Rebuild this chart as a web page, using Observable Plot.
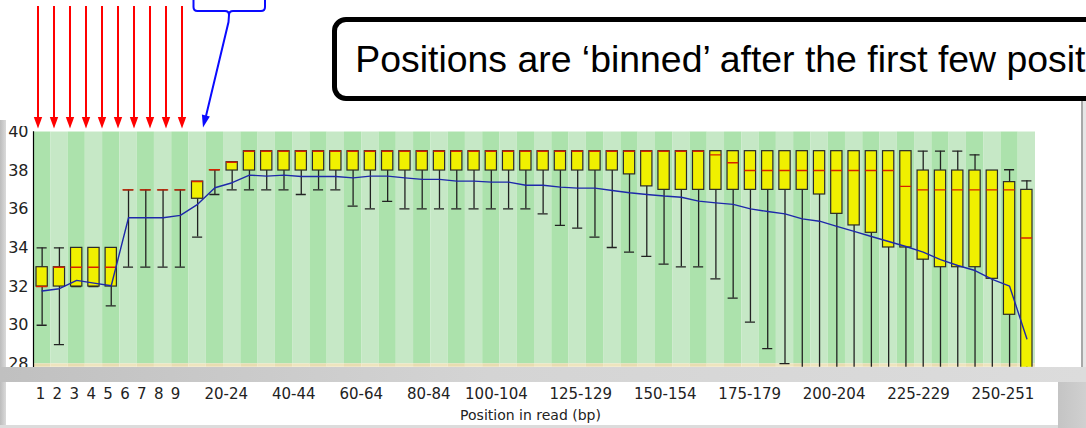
<!DOCTYPE html>
<html>
<head>
<meta charset="utf-8">
<script src="https://cdn.jsdelivr.net/npm/d3@7"></script>
<script src="https://cdn.jsdelivr.net/npm/@observablehq/plot@0.6"></script>
<style>
html,body{margin:0;padding:0;background:#fff;}
#page{position:relative;width:1086px;height:428px;overflow:hidden;background:#fff;font-family:"DejaVu Sans",sans-serif;}
#leftstrip{position:absolute;left:0;top:120px;width:6px;height:308px;background:linear-gradient(to right,#bcbcbc,#dadada);}
#main{position:absolute;left:0;top:126px;}
#rightline{position:absolute;left:1081px;top:101px;width:2px;height:266px;background:#a8a8a8;}
#rightpad{position:absolute;left:1083px;top:101px;width:3px;height:266px;background:#e6e6e6;}
#band{position:absolute;left:0;top:366.7px;width:1086px;height:15px;background:linear-gradient(to right,#c0c0c0,#d4d4d4 45%,#dcdcdc);}
#strip{position:absolute;left:6px;top:381.7px;width:1052px;height:43px;background:#fff;}
#stripright{position:absolute;left:1058px;top:381.7px;width:28px;height:47px;background:linear-gradient(to right,#c4c4c4,#d0d0d0);}
#stripbottom{position:absolute;left:0;top:424.7px;width:1058px;height:4px;background:#dcdcdc;}
#xaxis{position:absolute;left:0;top:381.7px;}
#callout{position:absolute;left:332px;top:16.7px;width:820px;height:84.3px;box-sizing:border-box;border:5px solid #000;border-radius:14px;background:#fff;}
#callouttext{position:absolute;left:355.3px;top:40.6px;font-family:"Liberation Sans",Arial,sans-serif;font-size:37.4px;line-height:1;white-space:nowrap;color:#000;}
#anno{position:absolute;left:0;top:0;width:1086px;height:428px;pointer-events:none;}
</style>
</head>
<body>
<div id="page">
  <div id="leftstrip"></div>
  <div id="main"></div>
  <div id="rightline"></div>
  <div id="rightpad"></div>
  <div id="band"></div>
  <div id="strip"></div>
  <div id="stripright"></div>
  <div id="stripbottom"></div>
  <div id="xaxis"></div>
  <div id="callout"></div>
  <div id="callouttext">Positions are ‘binned’ after the first few positions</div>
  <svg id="anno" viewBox="0 0 1086 428"></svg>
</div>
<script>
// ---- data ----
const cats = ["1","2","3","4","5","6","7","8","9","10-14","15-19","20-24","25-29","30-34","35-39","40-44","45-49","50-54","55-59","60-64","65-69","70-74","75-79","80-84","85-89","90-94","95-99","100-104","105-109","110-114","115-119","120-124","125-129","130-134","135-139","140-144","145-149","150-154","155-159","160-164","165-169","170-174","175-179","180-184","185-189","190-194","195-199","200-204","205-209","210-214","215-219","220-224","225-229","230-234","235-239","240-244","245-249","250-251"];

const upperQuartile = [33,33,34,34,34,37,37,37,37,37.43,
  38.04,38.43,39,39,39,39,39,39,39,39,
  39,39,39,39,39,39,39,39,39,39,
  39,39,39,39,39,39,39,39,39,39,
  39,39,39,39,39,39,39,39,39,39,
  39,38,38,38,38,38,37.4,37];

const lowerQuartile = [32,32,32,32,32,37,37,37,37,36.54,
  38.04,38.0,38,38,38,38,38,38,38,38,
  38,38,38,38,38,38,38,38,38,38,
  38,38,38,38,37.8,37.18,37,37,37,37,
  37,37,37,37,37,36.76,35.76,35.16,34.78,34.02,
  34.02,33.39,33,33,33,32.4,30.54,25];

const median = [32,33,33,33,33,37,37,37,37,37.43,
  38.04,38.43,39,39,39,39,39,39,39,39,
  39,39,39,39,39,39,39,39,39,39,
  39,39,39,39,39,39,39,39,39,38.81,
  38.4,38,38,38,38,38,38,38,38,38,
  37.18,37,37,37,37,37,37,34.51];

const whiskerHigh = [34,34,34,34,34,37,37,37,37,37.43,
  38.04,38.43,39,39,39,39,39,39,39,39,
  39,39,39,39,39,39,39,39,39,39,
  39,39,39,39,39,39,39,39,39,39,
  39,39,39,39,39,39,39,39,39,39,
  39,39,39,39,38.81,38,38.04,37.47];

const whiskerLow = [30,29,32,32,31,33,33,33,33,34.56,
  36.76,37,37,37,37,36.76,37,37,36.16,36.02,
  36.4,36.02,36.02,36.02,36.02,36.02,36.02,36.02,36.02,35.76,
  35.16,35.02,34.56,34.02,33.78,33.56,33.16,33.02,33.02,32.4,
  31.4,30.16,28.79,28.01,27,26,26,26,26,26,
  26,26,26,26,26,26,26,22];

const meanQuality = [31.77,31.89,32.32,32.18,32.04,35.56,35.56,35.56,35.68,36.25,
  37.11,37.37,37.76,37.71,37.76,37.69,37.69,37.69,37.62,37.71,
  37.71,37.62,37.54,37.54,37.45,37.45,37.40,37.40,37.24,37.24,
  37.14,37.09,37.09,36.97,36.85,36.76,36.68,36.62,36.42,36.33,
  36.25,36.02,35.88,35.76,35.50,35.38,35.11,34.85,34.59,34.33,
  34.07,33.78,33.39,33.09,32.83,32.37,32.02,29.30];

const yTicks = [28,30,32,34,36,38,40];
const xTickLabels = ["1","2","3","4","5","6","7","8","9","20-24","40-44","60-64","80-84","100-104","125-129","150-154","175-179","200-204","225-229","250-251"];
const xTitle = "Position in read (bp)";
const goodBand = [28, 40];
const okBand = [20, 28];

// ---- styles ----
const GREEN_A = "rgb(172,226,172)", GREEN_B = "rgb(198,232,198)";
const ORANGE_A = "rgb(232,220,176)", ORANGE_B = "rgb(238,228,190)";
const YELLOW = "rgb(240,240,0)", RED = "rgb(214,36,0)", BLUE = "rgb(30,40,170)", INK = "#222";

const rows = cats.map((c, i) => ({
  cat: c, idx: i,
  q1: lowerQuartile[i], q3: upperQuartile[i], med: median[i],
  lo: whiskerLow[i], hi: whiskerHigh[i], mean: meanQuality[i]
}));

const main = Plot.plot({
  width: 1036, height: 241,
  marginLeft: 33, marginRight: 1, marginTop: 5.35, marginBottom: 0.3,
  style: {background: "transparent", color: INK, fontFamily: "DejaVu Sans"},
  x: {type: "band", domain: cats, padding: 0, round: false, axis: null},
  y: {domain: [27.83, 40], axis: null},
  color: {type: "identity"},
  marks: [
    Plot.barY(rows, {x: "cat", y1: goodBand[0], y2: goodBand[1], fill: d => d.idx % 2 === 0 ? GREEN_A : GREEN_B, clip: true}),
    Plot.barY(rows, {x: "cat", y1: okBand[0], y2: okBand[1], fill: d => d.idx % 2 === 0 ? ORANGE_A : ORANGE_B, clip: true}),
    Plot.ruleX(rows, {x: "cat", y1: "lo", y2: "hi", stroke: INK, strokeWidth: 1.3, clip: true}),
    Plot.tickY(rows, {x: "cat", y: "hi", stroke: INK, strokeWidth: 1.3, insetLeft: 3.6, insetRight: 3.6, clip: true}),
    Plot.tickY(rows, {x: "cat", y: "lo", stroke: INK, strokeWidth: 1.3, insetLeft: 3.6, insetRight: 3.6, clip: true}),
    Plot.barY(rows, {x: "cat", y1: "q1", y2: "q3", fill: YELLOW, stroke: "#2a2a2a", strokeWidth: 1.2, insetLeft: 3, insetRight: 3, clip: true}),
    Plot.tickY(rows, {x: "cat", y: "med", stroke: RED, strokeWidth: 1.4, insetLeft: 3, insetRight: 3, clip: true}),
    Plot.line(rows, {x: "cat", y: "mean", stroke: BLUE, strokeWidth: 1.4, clip: true}),
    Plot.axisY({ticks: yTicks, tickSize: 0, tickPadding: 5, fontSize: 16, label: null}),
    Plot.frame({anchor: "left", stroke: "#000", strokeWidth: 1.2})
  ]
});
document.getElementById("main").appendChild(main);

const xaxis = Plot.plot({
  width: 1058, height: 43,
  marginLeft: 31.56, marginRight: 47.1, marginTop: 0, marginBottom: 0,
  style: {background: "transparent", color: INK, fontFamily: "DejaVu Sans"},
  x: {type: "band", domain: cats, padding: 0, round: false, axis: null},
  marks: [
    Plot.text(xTickLabels, {x: d => d, text: d => d, frameAnchor: "top", lineAnchor: "middle", dy: 11.6, fontSize: 15}),
    Plot.text([xTitle], {text: d => d, frameAnchor: "top", lineAnchor: "middle", dy: 33, dx: 8.8, fontSize: 14})
  ]
});
document.getElementById("xaxis").appendChild(xaxis);

// ---- slide annotations (hand-drawn arrows and brace) ----
const NS = "http://www.w3.org/2000/svg";
const anno = document.getElementById("anno");
function el(tag, attrs) { const e = document.createElementNS(NS, tag); for (const k in attrs) e.setAttribute(k, attrs[k]); anno.appendChild(e); return e; }
const redArrowX = [38, 54, 70, 86, 102, 118, 134, 150, 166, 182];
for (const x of redArrowX) {
  el("line", {x1: x, y1: 6, x2: x, y2: 119, stroke: "#ff0000", "stroke-width": 2});
  el("polygon", {points: `${x-4.2},117 ${x+4.2},117 ${x},128.5`, fill: "#ff0000"});
}
el("path", {d: "M193.5,0 L193.5,7 Q193.5,11 197.5,11 L225,11 Q229,11 229,15 Q229,11 233,11 L261,11 Q265,11 265,7 L265,0", fill: "none", stroke: "#0a0aff", "stroke-width": 2});
el("path", {d: "M229,15 L228.5,22 L206,116", fill: "none", stroke: "#0a0aff", "stroke-width": 2});
el("polygon", {points: "209.9,116.4 201.9,114.4 203,127.5", fill: "#0a0aff"});
</script>
</body>
</html>
